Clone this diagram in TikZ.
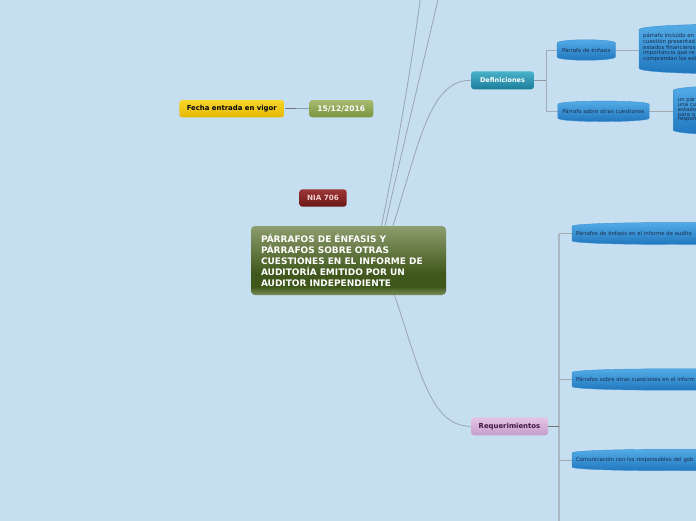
\documentclass[tikz,border=0pt]{standalone}
\usepackage{fontspec}
\setmainfont{DejaVu Sans}
\usetikzlibrary{backgrounds,calc}
\definecolor{bg}{HTML}{C5DEF0}
\definecolor{mtop}{HTML}{8D9D6D}
\definecolor{mdark}{HTML}{3F571B}
\definecolor{mbot}{HTML}{7A8D58}
\definecolor{conn}{HTML}{9AA5B0}
\definecolor{blobtop}{HTML}{56AEE8}
\definecolor{blobbot}{HTML}{1D74BC}
\definecolor{blobline}{HTML}{3C90D2}
\definecolor{navy}{HTML}{1B2D4F}
\definecolor{niatop}{HTML}{9E3636}
\definecolor{niabot}{HTML}{6A1717}
\definecolor{niatext}{HTML}{F2CFCF}
\definecolor{yeltop}{HTML}{F8D62A}
\definecolor{yelbot}{HTML}{E6B800}
\definecolor{grntop}{HTML}{A7BB70}
\definecolor{grnbot}{HTML}{78933E}
\definecolor{tealtop}{HTML}{4AB2CB}
\definecolor{tealbot}{HTML}{1C7D9B}
\definecolor{pinktop}{HTML}{E4C5E5}
\definecolor{pinkbot}{HTML}{C69DCB}
\definecolor{pinktext}{HTML}{43173F}
\definecolor{datedark}{HTML}{6F7780}
\definecolor{datelight}{HTML}{8E9CAC}
\definecolor{defline}{HTML}{8E98A3}
\definecolor{brline}{HTML}{A3ABB3}
\definecolor{vline}{HTML}{ABB7C2}
\definecolor{reqline}{HTML}{707274}
\pgfdeclareverticalshading{mainsh}{100bp}{color(0bp)=(mbot); color(25bp)=(mbot); color(31bp)=(mdark); color(40bp)=(mdark); color(75bp)=(mtop); color(100bp)=(mtop)}
\newcommand\blob[3][2pt]{%
  \path[blobshade] ([yshift=-#1]#2.north west)
    .. controls ([yshift=#3]#2.north west) and ([yshift=#3]#2.north east) .. ([yshift=-#1]#2.north east)
    -- ([yshift=#1]#2.south east)
    .. controls ([yshift=-#3]#2.south east) and ([yshift=-#3]#2.south west) .. ([yshift=#1]#2.south west)
    -- cycle;}
\tikzset{
  topic/.style={rounded corners=3pt, inner sep=0pt, align=center},
  blobshade/.style={top color=blobtop, bottom color=blobbot, draw=blobline, line width=0.4pt},
  blobtext/.style={inner sep=0pt, text=navy, font=\fontsize{5.4}{6}\selectfont},
  reqtext/.style={blobtext, anchor=west, minimum width=200pt, minimum height=16.5pt, inner xsep=4pt,
    align=left, text width=192pt, font=\fontsize{5.35}{6}\selectfont},
  boxtext/.style={inner sep=0pt, text=navy, align=left, font=\fontsize{5.4}{4.8}\selectfont},
  link/.style={draw=conn, line width=0.8pt},
  branch/.style={draw=#1, line width=1pt},
}
\begin{document}
\begin{tikzpicture}[x=1pt,y=-1pt]
\useasboundingbox (0,0) rectangle (696,520);
\clip (0,0) rectangle (696,520);
% main topic
\node[topic, rounded corners=4pt, shading=mainsh, minimum width=195pt, minimum height=69pt,
  text width=175pt, align=left, text=white, font=\fontsize{9}{11.1}\selectfont\bfseries]
  (main) at (348.5,260.5)
  {PÁRRAFOS DE ÉNFASIS Y\\PÁRRAFOS SOBRE OTRAS\\CUESTIONES EN EL INFORME DE\\AUDITORÍA EMITIDO POR UN\\AUDITOR INDEPENDIENTE};
\node[topic, top color=niatop, bottom color=niabot, minimum width=47.4pt, minimum height=17.4pt,
  text=niatext, font=\fontsize{7.2}{8}\selectfont\bfseries] (nia) at (323,198) {NIA 706};
\node[topic, top color=yeltop, bottom color=yelbot, minimum width=105pt, minimum height=17.3pt,
  text=black, font=\fontsize{6.9}{8}\selectfont\bfseries] (fecha) at (231.8,108.7) {Fecha entrada en vigor};
\node[topic, top color=grntop, bottom color=grnbot, minimum width=64pt, minimum height=17.3pt,
  text=white, font=\fontsize{7.6}{8}\selectfont\bfseries] (date) at (341.3,108.7) {15/12/2016};
\node[topic, top color=tealtop, bottom color=tealbot, minimum width=63pt, minimum height=18pt,
  text=white, font=\fontsize{6.5}{8}\selectfont\bfseries] (def) at (502.5,80.3) {Definiciones};
\node[topic, top color=pinktop, bottom color=pinkbot, minimum width=77pt, minimum height=18pt,
  text=pinktext, font=\fontsize{6.9}{8}\selectfont\bfseries] (req) at (509.5,426.3) {Requerimientos};
% blob children of Definiciones
\node[blobtext, minimum width=58pt, minimum height=16.3pt] (pde) at (586.3,50) {Párrafo de énfasis};
\node[blobtext, minimum width=91pt, minimum height=16.3pt] (pso) at (603.5,111.3) {Párrafo sobre otras cuestiones};
% big text boxes
\node[inner sep=0pt, minimum width=190pt, minimum height=42pt, anchor=west] (b1) at (639,49) {};
\node[boxtext, anchor=north west] (b1t) at (643,32.5)
  {párrafo incluido en\\cuestión presentad\\estados financieros\\importancia que re\\comprendan los est};
\node[inner sep=0pt, minimum width=190pt, minimum height=43pt, anchor=west] (b2) at (673.3,110.3) {};
\node[boxtext, anchor=north west] (b2t) at (677.7,97.2)
  {un pár\\una cu\\estado\\para q\\respon};
% blob children of Requerimientos
\node[reqtext, minimum height=17pt] (r1) at (572,233.5) {Párrafos de énfasis en el informe de audito};
\node[reqtext] (r2) at (572,379.5) {Párrafos sobre otras cuestiones en el inform};
\node[reqtext] (r3) at (572,460) {Comunicación con los responsables del gob};
% junction coordinates and free ends
\coordinate (dj) at (546,80.3);
\coordinate (rj) at (559,426.3);
\coordinate (rbot) at (559,540);
\coordinate (fj) at (296,108.7);
\coordinate (up1) at (424,-30);
\coordinate (up2) at (445,-30);
\begin{pgfonlayer}{background}
\clip (0,0) rectangle (696,520);
\fill[bg] (-5,-5) rectangle (701,525);
% curves from the main topic
\draw[link] ([xshift=33pt]main.north) .. controls (397,150) and (413,60) .. (up1);
\draw[link] ([xshift=36.5pt]main.north) .. controls (402,150) and (424,60) .. (up2);
\draw[link] ([xshift=44.5pt]main.north) .. controls (420,140) and (430,80.3) .. (def.west);
\draw[link] ([xshift=46pt]main.south) .. controls (420,370) and (430,426.3) .. (req.west);
% date connector
\draw[line width=1.3pt, draw=datedark] (fecha.east) -- (fj);
\draw[line width=1.3pt, draw=datelight] (fj) -- (date.west);
% Definiciones branches
\draw[branch=defline] (def.east) -- (dj);
\draw[branch=brline] (pde.west) -- (dj |- pde.west) -- (dj |- pso.west) -- (pso.west);
\draw[branch=brline] (pde.east) -- (pde.east -| b1.west);
\draw[branch=brline] (pso.east) -- (pso.east -| b2.west);
% Requerimientos branches
\draw[line width=1.5pt, draw=vline] (rj |- r1.west) -- (rbot);
\draw[line width=1.5pt, draw=reqline] (req.east) -- (rj);
\draw[branch=brline] (rj |- r1.west) -- (r1.west);
\draw[branch=brline] (rj |- r2.west) -- (r2.west);
\draw[branch=brline] (rj |- r3.west) -- (r3.west);
% blob shapes
\blob[1.5pt]{pde}{3pt}
\blob[1.5pt]{pso}{3pt}
\blob[2pt]{b1}{5.5pt}
\blob[2pt]{b2}{5.5pt}
\blob[1.5pt]{r1}{3.5pt}
\blob[1.5pt]{r2}{3.5pt}
\blob[1.5pt]{r3}{3.5pt}
\end{pgfonlayer}
\end{tikzpicture}
\end{document}
